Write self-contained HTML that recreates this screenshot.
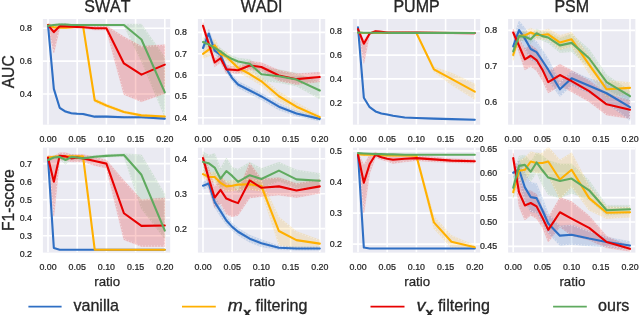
<!DOCTYPE html>
<html><head><meta charset="utf-8"><style>
html,body{margin:0;padding:0;background:#fff;width:640px;height:315px;overflow:hidden}
text{font-family:"Liberation Sans",sans-serif;fill:#262626;font-kerning:none}
.tk{font-size:9.5px;stroke:#262626;stroke-width:0.25px}
.tt{font-size:16px;stroke:#262626;stroke-width:0.3px}
.lb{font-size:13.3px;stroke:#262626;stroke-width:0.25px}
.yl{font-size:15.7px;stroke:#262626;stroke-width:0.3px}
.lg{font-size:16.1px;stroke:#262626;stroke-width:0.3px}
</style></head><body>
<svg width="640" height="315" viewBox="0 0 640 315" style="display:block;will-change:transform"><rect width="640" height="315" fill="#ffffff"/><clipPath id="c00"><rect x="42.90" y="19.00" width="127.30" height="105.70"/></clipPath><rect x="42.90" y="19.00" width="127.30" height="105.70" fill="#eaeaf2"/><path d="M48.00 19.00V124.70M77.20 19.00V124.70M106.40 19.00V124.70M135.60 19.00V124.70M164.80 19.00V124.70M42.90 94.00H170.20M42.90 61.15H170.20M42.90 28.30H170.20" stroke="#ffffff" stroke-width="1.6" fill="none" clip-path="url(#c00)"/><text transform="translate(31.90 97.00) scale(0.93 1)" text-anchor="end" class="tk">0.4</text><text transform="translate(31.90 64.15) scale(0.93 1)" text-anchor="end" class="tk">0.6</text><text transform="translate(31.90 31.30) scale(0.93 1)" text-anchor="end" class="tk">0.8</text><text transform="translate(48.00 141.90) scale(0.93 1)" text-anchor="middle" class="tk">0.00</text><text transform="translate(77.20 141.90) scale(0.93 1)" text-anchor="middle" class="tk">0.05</text><text transform="translate(106.40 141.90) scale(0.93 1)" text-anchor="middle" class="tk">0.10</text><text transform="translate(135.60 141.90) scale(0.93 1)" text-anchor="middle" class="tk">0.15</text><text transform="translate(164.80 141.90) scale(0.93 1)" text-anchor="middle" class="tk">0.20</text><g clip-path="url(#c00)"><clipPath id="b00green"><path d="M48.00 25.02L53.84 24.19L59.68 23.37L65.52 23.37L71.36 24.19L77.20 24.19L83.04 24.19L94.72 24.19L106.40 24.19L123.92 24.19L141.44 24.19L164.80 57.37L164.80 117.00L141.44 61.15L123.92 25.84L106.40 25.84L94.72 25.84L83.04 25.84L77.20 25.84L71.36 25.84L65.52 25.84L59.68 25.84L53.84 25.84L48.00 26.66Z"/></clipPath><path d="M48.00 25.02L53.84 24.19L59.68 23.37L65.52 23.37L71.36 24.19L77.20 24.19L83.04 24.19L94.72 24.19L106.40 24.19L123.92 24.19L141.44 24.19L164.80 57.37L164.80 117.00L141.44 61.15L123.92 25.84L106.40 25.84L94.72 25.84L83.04 25.84L77.20 25.84L71.36 25.84L65.52 25.84L59.68 25.84L53.84 25.84L48.00 26.66Z" fill="#5faa5f" fill-opacity="0.17" stroke="#5faa5f" stroke-opacity="0.12" stroke-width="0.8"/><path d="M48.00 25.02L53.84 24.19L59.68 23.37L65.52 23.37L71.36 24.19L77.20 24.19L83.04 24.19L94.72 24.19L106.40 24.19L123.92 24.19L141.44 24.19L164.80 57.37L164.80 117.00L141.44 61.15L123.92 25.84L106.40 25.84L94.72 25.84L83.04 25.84L77.20 25.84L71.36 25.84L65.52 25.84L59.68 25.84L53.84 25.84L48.00 26.66Z" fill="none" stroke="#ffffff" stroke-opacity="0.55" stroke-width="1.8" stroke-dasharray="1.3 1.7" clip-path="url(#b00green)"/><clipPath id="b00red"><path d="M48.00 23.37L53.84 25.02L59.68 24.19L65.52 24.19L71.36 25.02L77.20 25.02L83.04 25.02L94.72 25.84L106.40 25.84L123.92 36.84L141.44 46.37L164.80 44.73L164.80 93.51L141.44 101.72L123.92 94.49L106.40 29.94L94.72 29.94L83.04 28.30L77.20 28.30L71.36 28.30L65.52 28.30L59.68 28.30L53.84 52.94L48.00 26.66Z"/></clipPath><path d="M48.00 23.37L53.84 25.02L59.68 24.19L65.52 24.19L71.36 25.02L77.20 25.02L83.04 25.02L94.72 25.84L106.40 25.84L123.92 36.84L141.44 46.37L164.80 44.73L164.80 93.51L141.44 101.72L123.92 94.49L106.40 29.94L94.72 29.94L83.04 28.30L77.20 28.30L71.36 28.30L65.52 28.30L59.68 28.30L53.84 52.94L48.00 26.66Z" fill="#e80000" fill-opacity="0.2" stroke="#e80000" stroke-opacity="0.12" stroke-width="0.8"/><path d="M48.00 23.37L53.84 25.02L59.68 24.19L65.52 24.19L71.36 25.02L77.20 25.02L83.04 25.02L94.72 25.84L106.40 25.84L123.92 36.84L141.44 46.37L164.80 44.73L164.80 93.51L141.44 101.72L123.92 94.49L106.40 29.94L94.72 29.94L83.04 28.30L77.20 28.30L71.36 28.30L65.52 28.30L59.68 28.30L53.84 52.94L48.00 26.66Z" fill="none" stroke="#ffffff" stroke-opacity="0.55" stroke-width="1.8" stroke-dasharray="1.3 1.7" clip-path="url(#b00red)"/><clipPath id="b00yellow"><path d="M48.00 24.19L53.84 26.49L59.68 26.82L65.52 26.82L71.36 26.49L77.20 25.84L83.04 25.02L94.72 98.27L106.40 103.86L123.92 110.75L141.44 114.37L164.80 115.68L164.80 117.32L141.44 116.34L123.92 113.38L106.40 107.14L94.72 102.21L83.04 26.66L77.20 27.48L71.36 28.14L65.52 28.46L59.68 28.46L53.84 28.14L48.00 25.84Z"/></clipPath><path d="M48.00 24.19L53.84 26.49L59.68 26.82L65.52 26.82L71.36 26.49L77.20 25.84L83.04 25.02L94.72 98.27L106.40 103.86L123.92 110.75L141.44 114.37L164.80 115.68L164.80 117.32L141.44 116.34L123.92 113.38L106.40 107.14L94.72 102.21L83.04 26.66L77.20 27.48L71.36 28.14L65.52 28.46L59.68 28.46L53.84 28.14L48.00 25.84Z" fill="#ffb000" fill-opacity="0.16" stroke="#ffb000" stroke-opacity="0.12" stroke-width="0.8"/><path d="M48.00 24.19L53.84 26.49L59.68 26.82L65.52 26.82L71.36 26.49L77.20 25.84L83.04 25.02L94.72 98.27L106.40 103.86L123.92 110.75L141.44 114.37L164.80 115.68L164.80 117.32L141.44 116.34L123.92 113.38L106.40 107.14L94.72 102.21L83.04 26.66L77.20 27.48L71.36 28.14L65.52 28.46L59.68 28.46L53.84 28.14L48.00 25.84Z" fill="none" stroke="#ffffff" stroke-opacity="0.55" stroke-width="1.8" stroke-dasharray="1.3 1.7" clip-path="url(#b00yellow)"/><clipPath id="b00blue"><path d="M48.00 24.03L53.84 87.92L59.68 106.81L65.52 110.59L71.36 112.23L77.20 112.72L83.04 113.05L94.72 115.68L106.40 115.68L123.92 116.34L141.44 116.34L164.80 117.65L164.80 119.62L141.44 118.31L123.92 118.31L106.40 117.65L94.72 117.65L83.04 115.02L77.20 114.70L71.36 114.20L65.52 112.56L59.68 108.78L53.84 89.89L48.00 26.00Z"/></clipPath><path d="M48.00 24.03L53.84 87.92L59.68 106.81L65.52 110.59L71.36 112.23L77.20 112.72L83.04 113.05L94.72 115.68L106.40 115.68L123.92 116.34L141.44 116.34L164.80 117.65L164.80 119.62L141.44 118.31L123.92 118.31L106.40 117.65L94.72 117.65L83.04 115.02L77.20 114.70L71.36 114.20L65.52 112.56L59.68 108.78L53.84 89.89L48.00 26.00Z" fill="#2f6fc4" fill-opacity="0.18" stroke="#2f6fc4" stroke-opacity="0.12" stroke-width="0.8"/><path d="M48.00 24.03L53.84 87.92L59.68 106.81L65.52 110.59L71.36 112.23L77.20 112.72L83.04 113.05L94.72 115.68L106.40 115.68L123.92 116.34L141.44 116.34L164.80 117.65L164.80 119.62L141.44 118.31L123.92 118.31L106.40 117.65L94.72 117.65L83.04 115.02L77.20 114.70L71.36 114.20L65.52 112.56L59.68 108.78L53.84 89.89L48.00 26.00Z" fill="none" stroke="#ffffff" stroke-opacity="0.55" stroke-width="1.8" stroke-dasharray="1.3 1.7" clip-path="url(#b00blue)"/><path d="M48.00 25.02L53.84 88.91L59.68 107.80L65.52 111.57L71.36 113.22L77.20 113.71L83.04 114.04L94.72 116.67L106.40 116.67L123.92 117.32L141.44 117.32L164.80 118.64" stroke="#2f6fc4" stroke-width="2.1" fill="none" stroke-linejoin="round" stroke-linecap="round"/><path d="M48.00 25.02L53.84 27.31L59.68 27.64L65.52 27.64L71.36 27.31L77.20 26.66L83.04 25.84L94.72 100.24L106.40 105.50L123.92 112.07L141.44 115.35L164.80 116.50" stroke="#ffb000" stroke-width="2.1" fill="none" stroke-linejoin="round" stroke-linecap="round"/><path d="M48.00 25.02L53.84 32.08L59.68 26.16L65.52 26.33L71.36 26.66L77.20 26.99L83.04 27.31L94.72 28.30L106.40 28.30L123.92 63.45L141.44 74.62L164.80 64.60" stroke="#e80000" stroke-width="2.1" fill="none" stroke-linejoin="round" stroke-linecap="round"/><path d="M48.00 25.84L53.84 25.02L59.68 24.52L65.52 24.52L71.36 25.02L77.20 25.02L83.04 25.02L94.72 25.02L106.40 25.02L123.92 25.02L141.44 39.47L164.80 92.36" stroke="#5faa5f" stroke-width="2.1" fill="none" stroke-linejoin="round" stroke-linecap="round"/></g><clipPath id="c01"><rect x="197.90" y="19.00" width="127.30" height="105.70"/></clipPath><rect x="197.90" y="19.00" width="127.30" height="105.70" fill="#eaeaf2"/><path d="M203.00 19.00V124.70M232.20 19.00V124.70M261.40 19.00V124.70M290.60 19.00V124.70M319.80 19.00V124.70M197.90 117.80H325.20M197.90 96.45H325.20M197.90 75.10H325.20M197.90 53.75H325.20M197.90 32.40H325.20" stroke="#ffffff" stroke-width="1.6" fill="none" clip-path="url(#c01)"/><text transform="translate(186.90 120.80) scale(0.93 1)" text-anchor="end" class="tk">0.4</text><text transform="translate(186.90 99.45) scale(0.93 1)" text-anchor="end" class="tk">0.5</text><text transform="translate(186.90 78.10) scale(0.93 1)" text-anchor="end" class="tk">0.6</text><text transform="translate(186.90 56.75) scale(0.93 1)" text-anchor="end" class="tk">0.7</text><text transform="translate(186.90 35.40) scale(0.93 1)" text-anchor="end" class="tk">0.8</text><text transform="translate(203.00 141.90) scale(0.93 1)" text-anchor="middle" class="tk">0.00</text><text transform="translate(232.20 141.90) scale(0.93 1)" text-anchor="middle" class="tk">0.05</text><text transform="translate(261.40 141.90) scale(0.93 1)" text-anchor="middle" class="tk">0.10</text><text transform="translate(290.60 141.90) scale(0.93 1)" text-anchor="middle" class="tk">0.15</text><text transform="translate(319.80 141.90) scale(0.93 1)" text-anchor="middle" class="tk">0.20</text><g clip-path="url(#c01)"><clipPath id="b01green"><path d="M203.00 37.74L208.84 40.30L214.68 43.72L220.52 48.20L226.36 52.68L232.20 55.88L238.04 58.23L249.72 59.51L261.40 67.84L278.92 69.76L296.44 73.18L319.80 81.93L319.80 99.01L296.44 85.99L278.92 82.57L261.40 80.65L249.72 68.05L238.04 64.64L232.20 62.29L226.36 59.09L220.52 54.60L214.68 52.26L208.84 48.84L203.00 46.28Z"/></clipPath><path d="M203.00 37.74L208.84 40.30L214.68 43.72L220.52 48.20L226.36 52.68L232.20 55.88L238.04 58.23L249.72 59.51L261.40 67.84L278.92 69.76L296.44 73.18L319.80 81.93L319.80 99.01L296.44 85.99L278.92 82.57L261.40 80.65L249.72 68.05L238.04 64.64L232.20 62.29L226.36 59.09L220.52 54.60L214.68 52.26L208.84 48.84L203.00 46.28Z" fill="#5faa5f" fill-opacity="0.17" stroke="#5faa5f" stroke-opacity="0.12" stroke-width="0.8"/><path d="M203.00 37.74L208.84 40.30L214.68 43.72L220.52 48.20L226.36 52.68L232.20 55.88L238.04 58.23L249.72 59.51L261.40 67.84L278.92 69.76L296.44 73.18L319.80 81.93L319.80 99.01L296.44 85.99L278.92 82.57L261.40 80.65L249.72 68.05L238.04 64.64L232.20 62.29L226.36 59.09L220.52 54.60L214.68 52.26L208.84 48.84L203.00 46.28Z" fill="none" stroke="#ffffff" stroke-opacity="0.55" stroke-width="1.8" stroke-dasharray="1.3 1.7" clip-path="url(#b01green)"/><clipPath id="b01red"><path d="M203.00 22.58L208.84 39.87L214.68 58.23L220.52 53.96L226.36 65.07L232.20 66.56L238.04 66.99L249.72 61.22L261.40 62.72L278.92 70.19L296.44 73.82L319.80 72.32L319.80 81.72L296.44 84.49L278.92 80.86L261.40 71.26L249.72 69.76L238.04 73.39L232.20 72.97L226.36 73.61L220.52 62.50L214.68 66.77L208.84 48.41L203.00 28.98Z"/></clipPath><path d="M203.00 22.58L208.84 39.87L214.68 58.23L220.52 53.96L226.36 65.07L232.20 66.56L238.04 66.99L249.72 61.22L261.40 62.72L278.92 70.19L296.44 73.82L319.80 72.32L319.80 81.72L296.44 84.49L278.92 80.86L261.40 71.26L249.72 69.76L238.04 73.39L232.20 72.97L226.36 73.61L220.52 62.50L214.68 66.77L208.84 48.41L203.00 28.98Z" fill="#e80000" fill-opacity="0.2" stroke="#e80000" stroke-opacity="0.12" stroke-width="0.8"/><path d="M203.00 22.58L208.84 39.87L214.68 58.23L220.52 53.96L226.36 65.07L232.20 66.56L238.04 66.99L249.72 61.22L261.40 62.72L278.92 70.19L296.44 73.82L319.80 72.32L319.80 81.72L296.44 84.49L278.92 80.86L261.40 71.26L249.72 69.76L238.04 73.39L232.20 72.97L226.36 73.61L220.52 62.50L214.68 66.77L208.84 48.41L203.00 28.98Z" fill="none" stroke="#ffffff" stroke-opacity="0.55" stroke-width="1.8" stroke-dasharray="1.3 1.7" clip-path="url(#b01red)"/><clipPath id="b01yellow"><path d="M203.00 49.69L208.84 43.29L214.68 39.02L220.52 49.69L226.36 52.26L232.20 58.02L238.04 63.57L249.72 69.76L261.40 77.02L278.92 91.54L296.44 102.43L319.80 115.45L319.80 118.87L296.44 110.97L278.92 100.93L261.40 85.56L249.72 78.30L238.04 72.11L232.20 66.56L226.36 60.80L220.52 58.23L214.68 51.83L208.84 56.10L203.00 58.23Z"/></clipPath><path d="M203.00 49.69L208.84 43.29L214.68 39.02L220.52 49.69L226.36 52.26L232.20 58.02L238.04 63.57L249.72 69.76L261.40 77.02L278.92 91.54L296.44 102.43L319.80 115.45L319.80 118.87L296.44 110.97L278.92 100.93L261.40 85.56L249.72 78.30L238.04 72.11L232.20 66.56L226.36 60.80L220.52 58.23L214.68 51.83L208.84 56.10L203.00 58.23Z" fill="#ffb000" fill-opacity="0.16" stroke="#ffb000" stroke-opacity="0.12" stroke-width="0.8"/><path d="M203.00 49.69L208.84 43.29L214.68 39.02L220.52 49.69L226.36 52.26L232.20 58.02L238.04 63.57L249.72 69.76L261.40 77.02L278.92 91.54L296.44 102.43L319.80 115.45L319.80 118.87L296.44 110.97L278.92 100.93L261.40 85.56L249.72 78.30L238.04 72.11L232.20 66.56L226.36 60.80L220.52 58.23L214.68 51.83L208.84 56.10L203.00 58.23Z" fill="none" stroke="#ffffff" stroke-opacity="0.55" stroke-width="1.8" stroke-dasharray="1.3 1.7" clip-path="url(#b01yellow)"/><clipPath id="b01blue"><path d="M203.00 43.72L208.84 29.20L214.68 46.28L220.52 51.62L226.36 65.49L232.20 74.89L238.04 81.29L249.72 87.27L261.40 93.25L278.92 103.50L296.44 110.97L319.80 116.73L319.80 121.00L296.44 116.09L278.92 109.90L261.40 99.65L249.72 93.67L238.04 87.70L232.20 81.29L226.36 71.90L220.52 58.02L214.68 54.82L208.84 37.74L203.00 52.26Z"/></clipPath><path d="M203.00 43.72L208.84 29.20L214.68 46.28L220.52 51.62L226.36 65.49L232.20 74.89L238.04 81.29L249.72 87.27L261.40 93.25L278.92 103.50L296.44 110.97L319.80 116.73L319.80 121.00L296.44 116.09L278.92 109.90L261.40 99.65L249.72 93.67L238.04 87.70L232.20 81.29L226.36 71.90L220.52 58.02L214.68 54.82L208.84 37.74L203.00 52.26Z" fill="#2f6fc4" fill-opacity="0.18" stroke="#2f6fc4" stroke-opacity="0.12" stroke-width="0.8"/><path d="M203.00 43.72L208.84 29.20L214.68 46.28L220.52 51.62L226.36 65.49L232.20 74.89L238.04 81.29L249.72 87.27L261.40 93.25L278.92 103.50L296.44 110.97L319.80 116.73L319.80 121.00L296.44 116.09L278.92 109.90L261.40 99.65L249.72 93.67L238.04 87.70L232.20 81.29L226.36 71.90L220.52 58.02L214.68 54.82L208.84 37.74L203.00 52.26Z" fill="none" stroke="#ffffff" stroke-opacity="0.55" stroke-width="1.8" stroke-dasharray="1.3 1.7" clip-path="url(#b01blue)"/><path d="M203.00 47.99L208.84 33.47L214.68 50.55L220.52 54.82L226.36 68.70L232.20 78.09L238.04 84.49L249.72 90.47L261.40 96.45L278.92 106.70L296.44 113.53L319.80 118.87" stroke="#2f6fc4" stroke-width="2.1" fill="none" stroke-linejoin="round" stroke-linecap="round"/><path d="M203.00 53.96L208.84 49.69L214.68 45.42L220.52 53.96L226.36 56.53L232.20 62.29L238.04 67.84L249.72 74.03L261.40 81.29L278.92 96.24L296.44 106.70L319.80 117.16" stroke="#ffb000" stroke-width="2.1" fill="none" stroke-linejoin="round" stroke-linecap="round"/><path d="M203.00 25.78L208.84 44.14L214.68 62.50L220.52 58.23L226.36 69.34L232.20 69.76L238.04 70.19L249.72 65.49L261.40 66.99L278.92 75.53L296.44 79.16L319.80 77.02" stroke="#e80000" stroke-width="2.1" fill="none" stroke-linejoin="round" stroke-linecap="round"/><path d="M203.00 42.01L208.84 44.57L214.68 47.99L220.52 51.40L226.36 55.89L232.20 59.09L238.04 61.44L249.72 63.78L261.40 74.25L278.92 76.17L296.44 79.58L319.80 90.47" stroke="#5faa5f" stroke-width="2.1" fill="none" stroke-linejoin="round" stroke-linecap="round"/></g><clipPath id="c02"><rect x="352.90" y="19.00" width="127.30" height="105.70"/></clipPath><rect x="352.90" y="19.00" width="127.30" height="105.70" fill="#eaeaf2"/><path d="M358.00 19.00V124.70M387.20 19.00V124.70M416.40 19.00V124.70M445.60 19.00V124.70M474.80 19.00V124.70M352.90 102.70H480.20M352.90 78.90H480.20M352.90 55.10H480.20M352.90 31.30H480.20" stroke="#ffffff" stroke-width="1.6" fill="none" clip-path="url(#c02)"/><text transform="translate(341.90 105.70) scale(0.93 1)" text-anchor="end" class="tk">0.2</text><text transform="translate(341.90 81.90) scale(0.93 1)" text-anchor="end" class="tk">0.4</text><text transform="translate(341.90 58.10) scale(0.93 1)" text-anchor="end" class="tk">0.6</text><text transform="translate(341.90 34.30) scale(0.93 1)" text-anchor="end" class="tk">0.8</text><text transform="translate(358.00 141.90) scale(0.93 1)" text-anchor="middle" class="tk">0.00</text><text transform="translate(387.20 141.90) scale(0.93 1)" text-anchor="middle" class="tk">0.05</text><text transform="translate(416.40 141.90) scale(0.93 1)" text-anchor="middle" class="tk">0.10</text><text transform="translate(445.60 141.90) scale(0.93 1)" text-anchor="middle" class="tk">0.15</text><text transform="translate(474.80 141.90) scale(0.93 1)" text-anchor="middle" class="tk">0.20</text><g clip-path="url(#c02)"><clipPath id="b02red"><path d="M358.00 28.44L363.84 40.23L369.68 32.49L375.52 30.35L381.36 30.94L387.20 31.54L393.04 31.54L404.72 31.54L416.40 31.54L433.92 31.78L451.44 32.01L474.80 32.13L474.80 34.04L451.44 33.92L433.92 33.68L416.40 33.44L404.72 33.44L393.04 33.44L387.20 33.44L381.36 32.85L375.52 32.25L369.68 34.39L363.84 63.43L358.00 29.87Z"/></clipPath><path d="M358.00 28.44L363.84 40.23L369.68 32.49L375.52 30.35L381.36 30.94L387.20 31.54L393.04 31.54L404.72 31.54L416.40 31.54L433.92 31.78L451.44 32.01L474.80 32.13L474.80 34.04L451.44 33.92L433.92 33.68L416.40 33.44L404.72 33.44L393.04 33.44L387.20 33.44L381.36 32.85L375.52 32.25L369.68 34.39L363.84 63.43L358.00 29.87Z" fill="#e80000" fill-opacity="0.2" stroke="#e80000" stroke-opacity="0.12" stroke-width="0.8"/><path d="M358.00 28.44L363.84 40.23L369.68 32.49L375.52 30.35L381.36 30.94L387.20 31.54L393.04 31.54L404.72 31.54L416.40 31.54L433.92 31.78L451.44 32.01L474.80 32.13L474.80 34.04L451.44 33.92L433.92 33.68L416.40 33.44L404.72 33.44L393.04 33.44L387.20 33.44L381.36 32.85L375.52 32.25L369.68 34.39L363.84 63.43L358.00 29.87Z" fill="none" stroke="#ffffff" stroke-opacity="0.55" stroke-width="1.8" stroke-dasharray="1.3 1.7" clip-path="url(#b02red)"/><clipPath id="b02yellow"><path d="M358.00 31.89L363.84 32.37L369.68 32.37L375.52 32.37L381.36 32.37L387.20 32.37L393.04 32.37L404.72 32.37L416.40 32.37L433.92 67.00L451.44 72.95L474.80 83.90L474.80 99.37L451.44 84.85L433.92 71.76L416.40 33.56L404.72 33.56L393.04 33.56L387.20 33.56L381.36 33.56L375.52 33.56L369.68 33.56L363.84 33.56L358.00 33.09Z"/></clipPath><path d="M358.00 31.89L363.84 32.37L369.68 32.37L375.52 32.37L381.36 32.37L387.20 32.37L393.04 32.37L404.72 32.37L416.40 32.37L433.92 67.00L451.44 72.95L474.80 83.90L474.80 99.37L451.44 84.85L433.92 71.76L416.40 33.56L404.72 33.56L393.04 33.56L387.20 33.56L381.36 33.56L375.52 33.56L369.68 33.56L363.84 33.56L358.00 33.09Z" fill="#ffb000" fill-opacity="0.16" stroke="#ffb000" stroke-opacity="0.12" stroke-width="0.8"/><path d="M358.00 31.89L363.84 32.37L369.68 32.37L375.52 32.37L381.36 32.37L387.20 32.37L393.04 32.37L404.72 32.37L416.40 32.37L433.92 67.00L451.44 72.95L474.80 83.90L474.80 99.37L451.44 84.85L433.92 71.76L416.40 33.56L404.72 33.56L393.04 33.56L387.20 33.56L381.36 33.56L375.52 33.56L369.68 33.56L363.84 33.56L358.00 33.09Z" fill="none" stroke="#ffffff" stroke-opacity="0.55" stroke-width="1.8" stroke-dasharray="1.3 1.7" clip-path="url(#b02yellow)"/><clipPath id="b02blue"><path d="M358.00 26.90L363.84 97.23L369.68 106.75L375.52 110.91L381.36 113.05L387.20 114.01L393.04 115.20L404.72 116.98L416.40 117.58L433.92 118.17L451.44 118.65L474.80 119.24L474.80 120.19L451.44 119.60L433.92 119.12L416.40 118.53L404.72 117.93L393.04 116.15L387.20 114.96L381.36 114.01L375.52 111.86L369.68 107.70L363.84 98.18L358.00 27.85Z"/></clipPath><path d="M358.00 26.90L363.84 97.23L369.68 106.75L375.52 110.91L381.36 113.05L387.20 114.01L393.04 115.20L404.72 116.98L416.40 117.58L433.92 118.17L451.44 118.65L474.80 119.24L474.80 120.19L451.44 119.60L433.92 119.12L416.40 118.53L404.72 117.93L393.04 116.15L387.20 114.96L381.36 114.01L375.52 111.86L369.68 107.70L363.84 98.18L358.00 27.85Z" fill="#2f6fc4" fill-opacity="0.18" stroke="#2f6fc4" stroke-opacity="0.12" stroke-width="0.8"/><path d="M358.00 26.90L363.84 97.23L369.68 106.75L375.52 110.91L381.36 113.05L387.20 114.01L393.04 115.20L404.72 116.98L416.40 117.58L433.92 118.17L451.44 118.65L474.80 119.24L474.80 120.19L451.44 119.60L433.92 119.12L416.40 118.53L404.72 117.93L393.04 116.15L387.20 114.96L381.36 114.01L375.52 111.86L369.68 107.70L363.84 98.18L358.00 27.85Z" fill="none" stroke="#ffffff" stroke-opacity="0.55" stroke-width="1.8" stroke-dasharray="1.3 1.7" clip-path="url(#b02blue)"/><path d="M358.00 27.37L363.84 97.70L369.68 107.22L375.52 111.39L381.36 113.53L387.20 114.48L393.04 115.67L404.72 117.46L416.40 118.05L433.92 118.65L451.44 119.12L474.80 119.72" stroke="#2f6fc4" stroke-width="2.1" fill="none" stroke-linejoin="round" stroke-linecap="round"/><path d="M358.00 32.49L363.84 32.97L369.68 32.97L375.52 32.97L381.36 32.97L387.20 32.97L393.04 32.97L404.72 32.97L416.40 32.97L433.92 69.38L451.44 78.90L474.80 91.63" stroke="#ffb000" stroke-width="2.1" fill="none" stroke-linejoin="round" stroke-linecap="round"/><path d="M358.00 29.16L363.84 43.68L369.68 33.44L375.52 31.30L381.36 31.89L387.20 32.49L393.04 32.49L404.72 32.49L416.40 32.49L433.92 32.73L451.44 32.97L474.80 33.09" stroke="#e80000" stroke-width="2.1" fill="none" stroke-linejoin="round" stroke-linecap="round"/><path d="M358.00 32.49L363.84 32.73L369.68 32.73L375.52 32.73L381.36 32.73L387.20 32.73L393.04 32.85L404.72 32.85L416.40 32.85L433.92 32.85L451.44 32.85L474.80 32.97" stroke="#5faa5f" stroke-width="2.1" fill="none" stroke-linejoin="round" stroke-linecap="round"/></g><clipPath id="c03"><rect x="508.10" y="19.00" width="127.30" height="105.70"/></clipPath><rect x="508.10" y="19.00" width="127.30" height="105.70" fill="#eaeaf2"/><path d="M513.20 19.00V124.70M542.40 19.00V124.70M571.60 19.00V124.70M600.80 19.00V124.70M630.00 19.00V124.70M508.10 101.80H635.40M508.10 66.10H635.40M508.10 30.40H635.40" stroke="#ffffff" stroke-width="1.6" fill="none" clip-path="url(#c03)"/><text transform="translate(497.10 104.80) scale(0.93 1)" text-anchor="end" class="tk">0.6</text><text transform="translate(497.10 69.10) scale(0.93 1)" text-anchor="end" class="tk">0.7</text><text transform="translate(497.10 33.40) scale(0.93 1)" text-anchor="end" class="tk">0.8</text><text transform="translate(513.20 141.90) scale(0.93 1)" text-anchor="middle" class="tk">0.00</text><text transform="translate(542.40 141.90) scale(0.93 1)" text-anchor="middle" class="tk">0.05</text><text transform="translate(571.60 141.90) scale(0.93 1)" text-anchor="middle" class="tk">0.10</text><text transform="translate(600.80 141.90) scale(0.93 1)" text-anchor="middle" class="tk">0.15</text><text transform="translate(630.00 141.90) scale(0.93 1)" text-anchor="middle" class="tk">0.20</text><g clip-path="url(#c03)"><clipPath id="b03green"><path d="M513.20 46.11L519.04 31.83L524.88 32.54L530.72 35.04L536.56 28.97L542.40 31.83L548.24 32.19L559.92 38.25L571.60 33.97L589.12 49.32L606.64 75.03L630.00 90.73L630.00 101.44L606.64 89.31L589.12 67.17L571.60 51.82L559.92 52.53L548.24 42.90L542.40 40.40L536.56 37.54L530.72 43.61L524.88 41.11L519.04 40.40L513.20 56.82Z"/></clipPath><path d="M513.20 46.11L519.04 31.83L524.88 32.54L530.72 35.04L536.56 28.97L542.40 31.83L548.24 32.19L559.92 38.25L571.60 33.97L589.12 49.32L606.64 75.03L630.00 90.73L630.00 101.44L606.64 89.31L589.12 67.17L571.60 51.82L559.92 52.53L548.24 42.90L542.40 40.40L536.56 37.54L530.72 43.61L524.88 41.11L519.04 40.40L513.20 56.82Z" fill="#5faa5f" fill-opacity="0.17" stroke="#5faa5f" stroke-opacity="0.12" stroke-width="0.8"/><path d="M513.20 46.11L519.04 31.83L524.88 32.54L530.72 35.04L536.56 28.97L542.40 31.83L548.24 32.19L559.92 38.25L571.60 33.97L589.12 49.32L606.64 75.03L630.00 90.73L630.00 101.44L606.64 89.31L589.12 67.17L571.60 51.82L559.92 52.53L548.24 42.90L542.40 40.40L536.56 37.54L530.72 43.61L524.88 41.11L519.04 40.40L513.20 56.82Z" fill="none" stroke="#ffffff" stroke-opacity="0.55" stroke-width="1.8" stroke-dasharray="1.3 1.7" clip-path="url(#b03green)"/><clipPath id="b03red"><path d="M513.20 28.97L519.04 38.61L524.88 48.61L530.72 45.04L536.56 49.32L542.40 58.96L548.24 71.45L559.92 64.31L571.60 70.38L589.12 80.38L606.64 93.59L630.00 100.73L630.00 118.58L606.64 115.01L589.12 101.80L571.60 91.80L559.92 85.74L548.24 92.88L542.40 80.38L536.56 70.74L530.72 66.46L524.88 70.03L519.04 52.89L513.20 36.11Z"/></clipPath><path d="M513.20 28.97L519.04 38.61L524.88 48.61L530.72 45.04L536.56 49.32L542.40 58.96L548.24 71.45L559.92 64.31L571.60 70.38L589.12 80.38L606.64 93.59L630.00 100.73L630.00 118.58L606.64 115.01L589.12 101.80L571.60 91.80L559.92 85.74L548.24 92.88L542.40 80.38L536.56 70.74L530.72 66.46L524.88 70.03L519.04 52.89L513.20 36.11Z" fill="#e80000" fill-opacity="0.2" stroke="#e80000" stroke-opacity="0.12" stroke-width="0.8"/><path d="M513.20 28.97L519.04 38.61L524.88 48.61L530.72 45.04L536.56 49.32L542.40 58.96L548.24 71.45L559.92 64.31L571.60 70.38L589.12 80.38L606.64 93.59L630.00 100.73L630.00 118.58L606.64 115.01L589.12 101.80L571.60 91.80L559.92 85.74L548.24 92.88L542.40 80.38L536.56 70.74L530.72 66.46L524.88 70.03L519.04 52.89L513.20 36.11Z" fill="none" stroke="#ffffff" stroke-opacity="0.55" stroke-width="1.8" stroke-dasharray="1.3 1.7" clip-path="url(#b03red)"/><clipPath id="b03yellow"><path d="M513.20 49.68L519.04 31.83L524.88 31.11L530.72 28.26L536.56 30.76L542.40 30.76L548.24 28.97L559.92 35.40L571.60 32.19L589.12 55.75L606.64 80.38L630.00 82.52L630.00 93.23L606.64 98.23L589.12 73.60L571.60 46.47L559.92 49.68L548.24 39.68L542.40 39.33L536.56 39.33L530.72 36.83L524.88 39.68L519.04 40.40L513.20 60.39Z"/></clipPath><path d="M513.20 49.68L519.04 31.83L524.88 31.11L530.72 28.26L536.56 30.76L542.40 30.76L548.24 28.97L559.92 35.40L571.60 32.19L589.12 55.75L606.64 80.38L630.00 82.52L630.00 93.23L606.64 98.23L589.12 73.60L571.60 46.47L559.92 49.68L548.24 39.68L542.40 39.33L536.56 39.33L530.72 36.83L524.88 39.68L519.04 40.40L513.20 60.39Z" fill="#ffb000" fill-opacity="0.16" stroke="#ffb000" stroke-opacity="0.12" stroke-width="0.8"/><path d="M513.20 49.68L519.04 31.83L524.88 31.11L530.72 28.26L536.56 30.76L542.40 30.76L548.24 28.97L559.92 35.40L571.60 32.19L589.12 55.75L606.64 80.38L630.00 82.52L630.00 93.23L606.64 98.23L589.12 73.60L571.60 46.47L559.92 49.68L548.24 39.68L542.40 39.33L536.56 39.33L530.72 36.83L524.88 39.68L519.04 40.40L513.20 60.39Z" fill="none" stroke="#ffffff" stroke-opacity="0.55" stroke-width="1.8" stroke-dasharray="1.3 1.7" clip-path="url(#b03yellow)"/><clipPath id="b03blue"><path d="M513.20 39.33L519.04 21.12L524.88 27.90L530.72 38.25L536.56 41.47L542.40 50.04L548.24 58.96L559.92 82.17L571.60 71.10L589.12 78.59L606.64 83.24L630.00 93.95L630.00 120.36L606.64 103.23L589.12 92.88L571.60 85.38L559.92 96.45L548.24 80.38L542.40 71.46L536.56 62.89L530.72 59.67L524.88 49.32L519.04 38.97L513.20 53.61Z"/></clipPath><path d="M513.20 39.33L519.04 21.12L524.88 27.90L530.72 38.25L536.56 41.47L542.40 50.04L548.24 58.96L559.92 82.17L571.60 71.10L589.12 78.59L606.64 83.24L630.00 93.95L630.00 120.36L606.64 103.23L589.12 92.88L571.60 85.38L559.92 96.45L548.24 80.38L542.40 71.46L536.56 62.89L530.72 59.67L524.88 49.32L519.04 38.97L513.20 53.61Z" fill="#2f6fc4" fill-opacity="0.18" stroke="#2f6fc4" stroke-opacity="0.12" stroke-width="0.8"/><path d="M513.20 39.33L519.04 21.12L524.88 27.90L530.72 38.25L536.56 41.47L542.40 50.04L548.24 58.96L559.92 82.17L571.60 71.10L589.12 78.59L606.64 83.24L630.00 93.95L630.00 120.36L606.64 103.23L589.12 92.88L571.60 85.38L559.92 96.45L548.24 80.38L542.40 71.46L536.56 62.89L530.72 59.67L524.88 49.32L519.04 38.97L513.20 53.61Z" fill="none" stroke="#ffffff" stroke-opacity="0.55" stroke-width="1.8" stroke-dasharray="1.3 1.7" clip-path="url(#b03blue)"/><path d="M513.20 46.47L519.04 30.04L524.88 38.61L530.72 48.96L536.56 52.18L542.40 60.75L548.24 69.67L559.92 89.31L571.60 78.24L589.12 85.74L606.64 93.23L630.00 107.16" stroke="#2f6fc4" stroke-width="2.1" fill="none" stroke-linejoin="round" stroke-linecap="round"/><path d="M513.20 55.03L519.04 36.11L524.88 35.40L530.72 32.54L536.56 35.04L542.40 35.04L548.24 34.33L559.92 42.54L571.60 39.33L589.12 64.67L606.64 89.31L630.00 87.88" stroke="#ffb000" stroke-width="2.1" fill="none" stroke-linejoin="round" stroke-linecap="round"/><path d="M513.20 32.54L519.04 45.75L524.88 59.32L530.72 55.75L536.56 60.03L542.40 69.67L548.24 82.17L559.92 75.03L571.60 81.09L589.12 91.09L606.64 104.30L630.00 109.65" stroke="#e80000" stroke-width="2.1" fill="none" stroke-linejoin="round" stroke-linecap="round"/><path d="M513.20 51.46L519.04 36.11L524.88 36.83L530.72 39.33L536.56 33.26L542.40 36.11L548.24 37.54L559.92 45.39L571.60 42.90L589.12 58.25L606.64 82.17L630.00 96.09" stroke="#5faa5f" stroke-width="2.1" fill="none" stroke-linejoin="round" stroke-linecap="round"/></g><clipPath id="c10"><rect x="42.90" y="147.60" width="127.30" height="105.00"/></clipPath><rect x="42.90" y="147.60" width="127.30" height="105.00" fill="#eaeaf2"/><path d="M48.00 147.60V252.60M77.20 147.60V252.60M106.40 147.60V252.60M135.60 147.60V252.60M164.80 147.60V252.60M42.90 235.80H170.20M42.90 217.75H170.20M42.90 199.70H170.20M42.90 181.65H170.20M42.90 163.60H170.20" stroke="#ffffff" stroke-width="1.6" fill="none" clip-path="url(#c10)"/><text transform="translate(31.90 256.85) scale(0.93 1)" text-anchor="end" class="tk">0.2</text><text transform="translate(31.90 238.80) scale(0.93 1)" text-anchor="end" class="tk">0.3</text><text transform="translate(31.90 220.75) scale(0.93 1)" text-anchor="end" class="tk">0.4</text><text transform="translate(31.90 202.70) scale(0.93 1)" text-anchor="end" class="tk">0.5</text><text transform="translate(31.90 184.65) scale(0.93 1)" text-anchor="end" class="tk">0.6</text><text transform="translate(31.90 166.60) scale(0.93 1)" text-anchor="end" class="tk">0.7</text><text transform="translate(48.00 269.80) scale(0.93 1)" text-anchor="middle" class="tk">0.00</text><text transform="translate(77.20 269.80) scale(0.93 1)" text-anchor="middle" class="tk">0.05</text><text transform="translate(106.40 269.80) scale(0.93 1)" text-anchor="middle" class="tk">0.10</text><text transform="translate(135.60 269.80) scale(0.93 1)" text-anchor="middle" class="tk">0.15</text><text transform="translate(164.80 269.80) scale(0.93 1)" text-anchor="middle" class="tk">0.20</text><g clip-path="url(#c10)"><clipPath id="b10green"><path d="M48.00 158.19L53.84 155.48L59.68 154.57L65.52 156.38L71.36 154.57L77.20 155.48L83.04 156.38L94.72 155.48L106.40 154.57L123.92 153.67L141.44 154.94L164.80 194.28L164.80 238.87L141.44 208.72L123.92 156.38L106.40 157.28L94.72 158.19L83.04 159.99L77.20 159.99L71.36 159.09L65.52 164.32L59.68 159.09L53.84 159.09L48.00 161.79Z"/></clipPath><path d="M48.00 158.19L53.84 155.48L59.68 154.57L65.52 156.38L71.36 154.57L77.20 155.48L83.04 156.38L94.72 155.48L106.40 154.57L123.92 153.67L141.44 154.94L164.80 194.28L164.80 238.87L141.44 208.72L123.92 156.38L106.40 157.28L94.72 158.19L83.04 159.99L77.20 159.99L71.36 159.09L65.52 164.32L59.68 159.09L53.84 159.09L48.00 161.79Z" fill="#5faa5f" fill-opacity="0.17" stroke="#5faa5f" stroke-opacity="0.12" stroke-width="0.8"/><path d="M48.00 158.19L53.84 155.48L59.68 154.57L65.52 156.38L71.36 154.57L77.20 155.48L83.04 156.38L94.72 155.48L106.40 154.57L123.92 153.67L141.44 154.94L164.80 194.28L164.80 238.87L141.44 208.72L123.92 156.38L106.40 157.28L94.72 158.19L83.04 159.99L77.20 159.99L71.36 159.09L65.52 164.32L59.68 159.09L53.84 159.09L48.00 161.79Z" fill="none" stroke="#ffffff" stroke-opacity="0.55" stroke-width="1.8" stroke-dasharray="1.3 1.7" clip-path="url(#b10green)"/><clipPath id="b10red"><path d="M48.00 155.48L53.84 156.38L59.68 152.77L65.52 152.77L71.36 154.57L77.20 154.57L83.04 154.57L94.72 157.28L106.40 159.99L123.92 180.57L141.44 199.70L164.80 197.89L164.80 246.45L141.44 246.45L123.92 239.77L106.40 168.11L94.72 165.41L83.04 161.79L77.20 161.79L71.36 161.79L65.52 159.99L59.68 159.99L53.84 215.94L48.00 159.99Z"/></clipPath><path d="M48.00 155.48L53.84 156.38L59.68 152.77L65.52 152.77L71.36 154.57L77.20 154.57L83.04 154.57L94.72 157.28L106.40 159.99L123.92 180.57L141.44 199.70L164.80 197.89L164.80 246.45L141.44 246.45L123.92 239.77L106.40 168.11L94.72 165.41L83.04 161.79L77.20 161.79L71.36 161.79L65.52 159.99L59.68 159.99L53.84 215.94L48.00 159.99Z" fill="#e80000" fill-opacity="0.2" stroke="#e80000" stroke-opacity="0.12" stroke-width="0.8"/><path d="M48.00 155.48L53.84 156.38L59.68 152.77L65.52 152.77L71.36 154.57L77.20 154.57L83.04 154.57L94.72 157.28L106.40 159.99L123.92 180.57L141.44 199.70L164.80 197.89L164.80 246.45L141.44 246.45L123.92 239.77L106.40 168.11L94.72 165.41L83.04 161.79L77.20 161.79L71.36 161.79L65.52 159.99L59.68 159.99L53.84 215.94L48.00 159.99Z" fill="none" stroke="#ffffff" stroke-opacity="0.55" stroke-width="1.8" stroke-dasharray="1.3 1.7" clip-path="url(#b10red)"/><path d="M48.00 158.37L53.84 247.89L59.68 249.70L65.52 249.70L71.36 249.70L77.20 249.70L83.04 249.70L94.72 249.70L106.40 249.70L123.92 249.70L141.44 249.70L164.80 249.70" stroke="#2f6fc4" stroke-width="2.1" fill="none" stroke-linejoin="round" stroke-linecap="round"/><path d="M48.00 157.46L53.84 156.92L59.68 156.38L65.52 156.38L71.36 156.38L77.20 156.38L83.04 156.38L94.72 249.70L106.40 249.70L123.92 249.70L141.44 249.70L164.80 249.70" stroke="#ffb000" stroke-width="2.1" fill="none" stroke-linejoin="round" stroke-linecap="round"/><path d="M48.00 157.46L53.84 181.65L59.68 155.84L65.52 156.38L71.36 158.37L77.20 157.46L83.04 158.37L94.72 161.07L106.40 163.60L123.92 213.24L141.44 225.87L164.80 225.51" stroke="#e80000" stroke-width="2.1" fill="none" stroke-linejoin="round" stroke-linecap="round"/><path d="M48.00 159.99L53.84 157.46L59.68 156.92L65.52 159.99L71.36 156.92L77.20 157.46L83.04 158.37L94.72 156.74L106.40 155.84L123.92 154.94L141.44 174.79L164.80 230.57" stroke="#5faa5f" stroke-width="2.1" fill="none" stroke-linejoin="round" stroke-linecap="round"/></g><clipPath id="c11"><rect x="197.90" y="147.60" width="127.30" height="105.00"/></clipPath><rect x="197.90" y="147.60" width="127.30" height="105.00" fill="#eaeaf2"/><path d="M203.00 147.60V252.60M232.20 147.60V252.60M261.40 147.60V252.60M290.60 147.60V252.60M319.80 147.60V252.60M197.90 228.60H325.20M197.90 193.70H325.20M197.90 158.80H325.20" stroke="#ffffff" stroke-width="1.6" fill="none" clip-path="url(#c11)"/><text transform="translate(186.90 231.60) scale(0.93 1)" text-anchor="end" class="tk">0.2</text><text transform="translate(186.90 196.70) scale(0.93 1)" text-anchor="end" class="tk">0.3</text><text transform="translate(186.90 161.80) scale(0.93 1)" text-anchor="end" class="tk">0.4</text><text transform="translate(203.00 269.80) scale(0.93 1)" text-anchor="middle" class="tk">0.00</text><text transform="translate(232.20 269.80) scale(0.93 1)" text-anchor="middle" class="tk">0.05</text><text transform="translate(261.40 269.80) scale(0.93 1)" text-anchor="middle" class="tk">0.10</text><text transform="translate(290.60 269.80) scale(0.93 1)" text-anchor="middle" class="tk">0.15</text><text transform="translate(319.80 269.80) scale(0.93 1)" text-anchor="middle" class="tk">0.20</text><g clip-path="url(#c11)"><clipPath id="b11green"><path d="M203.00 151.82L208.84 155.31L214.68 153.57L220.52 168.57L226.36 158.10L232.20 167.53L238.04 169.27L249.72 162.29L261.40 168.57L278.92 162.29L296.44 169.97L319.80 173.46L319.80 187.77L296.44 188.12L278.92 181.14L261.40 187.77L249.72 185.67L238.04 192.30L232.20 186.37L226.36 183.23L220.52 189.16L214.68 178.00L208.84 172.06L203.00 172.41Z"/></clipPath><path d="M203.00 151.82L208.84 155.31L214.68 153.57L220.52 168.57L226.36 158.10L232.20 167.53L238.04 169.27L249.72 162.29L261.40 168.57L278.92 162.29L296.44 169.97L319.80 173.46L319.80 187.77L296.44 188.12L278.92 181.14L261.40 187.77L249.72 185.67L238.04 192.30L232.20 186.37L226.36 183.23L220.52 189.16L214.68 178.00L208.84 172.06L203.00 172.41Z" fill="#5faa5f" fill-opacity="0.17" stroke="#5faa5f" stroke-opacity="0.12" stroke-width="0.8"/><path d="M203.00 151.82L208.84 155.31L214.68 153.57L220.52 168.57L226.36 158.10L232.20 167.53L238.04 169.27L249.72 162.29L261.40 168.57L278.92 162.29L296.44 169.97L319.80 173.46L319.80 187.77L296.44 188.12L278.92 181.14L261.40 187.77L249.72 185.67L238.04 192.30L232.20 186.37L226.36 183.23L220.52 189.16L214.68 178.00L208.84 172.06L203.00 172.41Z" fill="none" stroke="#ffffff" stroke-opacity="0.55" stroke-width="1.8" stroke-dasharray="1.3 1.7" clip-path="url(#b11green)"/><clipPath id="b11red"><path d="M203.00 154.61L208.84 168.22L214.68 187.07L220.52 175.90L226.36 182.88L232.20 185.32L238.04 190.91L249.72 162.99L261.40 179.04L278.92 177.65L296.44 183.58L319.80 179.39L319.80 193.35L296.44 197.54L278.92 195.10L261.40 196.49L249.72 197.89L238.04 215.34L232.20 216.73L226.36 214.29L220.52 203.82L214.68 208.01L208.84 189.16L203.00 161.59Z"/></clipPath><path d="M203.00 154.61L208.84 168.22L214.68 187.07L220.52 175.90L226.36 182.88L232.20 185.32L238.04 190.91L249.72 162.99L261.40 179.04L278.92 177.65L296.44 183.58L319.80 179.39L319.80 193.35L296.44 197.54L278.92 195.10L261.40 196.49L249.72 197.89L238.04 215.34L232.20 216.73L226.36 214.29L220.52 203.82L214.68 208.01L208.84 189.16L203.00 161.59Z" fill="#e80000" fill-opacity="0.2" stroke="#e80000" stroke-opacity="0.12" stroke-width="0.8"/><path d="M203.00 154.61L208.84 168.22L214.68 187.07L220.52 175.90L226.36 182.88L232.20 185.32L238.04 190.91L249.72 162.99L261.40 179.04L278.92 177.65L296.44 183.58L319.80 179.39L319.80 193.35L296.44 197.54L278.92 195.10L261.40 196.49L249.72 197.89L238.04 215.34L232.20 216.73L226.36 214.29L220.52 203.82L214.68 208.01L208.84 189.16L203.00 161.59Z" fill="none" stroke="#ffffff" stroke-opacity="0.55" stroke-width="1.8" stroke-dasharray="1.3 1.7" clip-path="url(#b11red)"/><clipPath id="b11yellow"><path d="M203.00 170.67L208.84 173.46L214.68 171.71L220.52 177.65L226.36 181.14L232.20 180.44L238.04 179.39L249.72 179.04L261.40 180.79L278.92 217.08L296.44 231.39L319.80 240.12L319.80 247.10L296.44 248.84L278.92 245.00L261.40 191.26L249.72 189.51L238.04 189.86L232.20 190.91L226.36 191.61L220.52 188.12L214.68 182.18L208.84 180.44L203.00 177.65Z"/></clipPath><path d="M203.00 170.67L208.84 173.46L214.68 171.71L220.52 177.65L226.36 181.14L232.20 180.44L238.04 179.39L249.72 179.04L261.40 180.79L278.92 217.08L296.44 231.39L319.80 240.12L319.80 247.10L296.44 248.84L278.92 245.00L261.40 191.26L249.72 189.51L238.04 189.86L232.20 190.91L226.36 191.61L220.52 188.12L214.68 182.18L208.84 180.44L203.00 177.65Z" fill="#ffb000" fill-opacity="0.16" stroke="#ffb000" stroke-opacity="0.12" stroke-width="0.8"/><path d="M203.00 170.67L208.84 173.46L214.68 171.71L220.52 177.65L226.36 181.14L232.20 180.44L238.04 179.39L249.72 179.04L261.40 180.79L278.92 217.08L296.44 231.39L319.80 240.12L319.80 247.10L296.44 248.84L278.92 245.00L261.40 191.26L249.72 189.51L238.04 189.86L232.20 190.91L226.36 191.61L220.52 188.12L214.68 182.18L208.84 180.44L203.00 177.65Z" fill="none" stroke="#ffffff" stroke-opacity="0.55" stroke-width="1.8" stroke-dasharray="1.3 1.7" clip-path="url(#b11yellow)"/><clipPath id="b11blue"><path d="M203.00 182.18L208.84 180.09L214.68 196.84L220.52 205.92L226.36 216.39L232.20 223.37L238.04 228.25L249.72 235.23L261.40 239.77L278.92 246.05L296.44 246.75L319.80 246.75L319.80 250.24L296.44 250.24L278.92 249.54L261.40 246.75L249.72 242.21L238.04 235.23L232.20 230.35L226.36 224.76L220.52 216.39L214.68 207.31L208.84 187.07L203.00 189.16Z"/></clipPath><path d="M203.00 182.18L208.84 180.09L214.68 196.84L220.52 205.92L226.36 216.39L232.20 223.37L238.04 228.25L249.72 235.23L261.40 239.77L278.92 246.05L296.44 246.75L319.80 246.75L319.80 250.24L296.44 250.24L278.92 249.54L261.40 246.75L249.72 242.21L238.04 235.23L232.20 230.35L226.36 224.76L220.52 216.39L214.68 207.31L208.84 187.07L203.00 189.16Z" fill="#2f6fc4" fill-opacity="0.18" stroke="#2f6fc4" stroke-opacity="0.12" stroke-width="0.8"/><path d="M203.00 182.18L208.84 180.09L214.68 196.84L220.52 205.92L226.36 216.39L232.20 223.37L238.04 228.25L249.72 235.23L261.40 239.77L278.92 246.05L296.44 246.75L319.80 246.75L319.80 250.24L296.44 250.24L278.92 249.54L261.40 246.75L249.72 242.21L238.04 235.23L232.20 230.35L226.36 224.76L220.52 216.39L214.68 207.31L208.84 187.07L203.00 189.16Z" fill="none" stroke="#ffffff" stroke-opacity="0.55" stroke-width="1.8" stroke-dasharray="1.3 1.7" clip-path="url(#b11blue)"/><path d="M203.00 185.67L208.84 183.58L214.68 202.08L220.52 211.15L226.36 220.57L232.20 226.86L238.04 231.74L249.72 238.72L261.40 243.26L278.92 247.80L296.44 248.49L319.80 248.49" stroke="#2f6fc4" stroke-width="2.1" fill="none" stroke-linejoin="round" stroke-linecap="round"/><path d="M203.00 174.16L208.84 176.95L214.68 176.95L220.52 182.88L226.36 186.37L232.20 185.67L238.04 184.63L249.72 184.28L261.40 186.02L278.92 231.04L296.44 240.12L319.80 243.61" stroke="#ffb000" stroke-width="2.1" fill="none" stroke-linejoin="round" stroke-linecap="round"/><path d="M203.00 158.10L208.84 178.69L214.68 197.54L220.52 189.86L226.36 198.59L232.20 201.03L238.04 203.12L249.72 180.44L261.40 187.77L278.92 186.37L296.44 190.56L319.80 186.37" stroke="#e80000" stroke-width="2.1" fill="none" stroke-linejoin="round" stroke-linecap="round"/><path d="M203.00 161.94L208.84 163.34L214.68 167.53L220.52 178.69L226.36 171.02L232.20 175.90L238.04 181.83L249.72 175.20L261.40 179.04L278.92 170.67L296.44 179.39L319.80 180.79" stroke="#5faa5f" stroke-width="2.1" fill="none" stroke-linejoin="round" stroke-linecap="round"/></g><clipPath id="c12"><rect x="352.90" y="147.60" width="127.30" height="105.00"/></clipPath><rect x="352.90" y="147.60" width="127.30" height="105.00" fill="#eaeaf2"/><path d="M358.00 147.60V252.60M387.20 147.60V252.60M416.40 147.60V252.60M445.60 147.60V252.60M474.80 147.60V252.60M352.90 244.15H480.20M352.90 213.10H480.20M352.90 182.05H480.20M352.90 151.00H480.20" stroke="#ffffff" stroke-width="1.6" fill="none" clip-path="url(#c12)"/><text transform="translate(341.90 247.15) scale(0.93 1)" text-anchor="end" class="tk">0.2</text><text transform="translate(341.90 216.10) scale(0.93 1)" text-anchor="end" class="tk">0.3</text><text transform="translate(341.90 185.05) scale(0.93 1)" text-anchor="end" class="tk">0.4</text><text transform="translate(341.90 154.00) scale(0.93 1)" text-anchor="end" class="tk">0.5</text><text transform="translate(358.00 269.80) scale(0.93 1)" text-anchor="middle" class="tk">0.00</text><text transform="translate(387.20 269.80) scale(0.93 1)" text-anchor="middle" class="tk">0.05</text><text transform="translate(416.40 269.80) scale(0.93 1)" text-anchor="middle" class="tk">0.10</text><text transform="translate(445.60 269.80) scale(0.93 1)" text-anchor="middle" class="tk">0.15</text><text transform="translate(474.80 269.80) scale(0.93 1)" text-anchor="middle" class="tk">0.20</text><g clip-path="url(#c12)"><clipPath id="b12red"><path d="M358.00 152.24L363.84 164.97L369.68 154.73L375.52 152.24L381.36 154.73L387.20 156.28L393.04 155.97L404.72 155.66L416.40 155.66L433.92 156.90L451.44 158.76L474.80 159.38L474.80 163.11L451.44 162.49L433.92 161.87L416.40 160.63L404.72 161.87L393.04 163.42L387.20 161.25L381.36 159.69L375.52 157.21L369.68 173.36L363.84 213.10L358.00 157.21Z"/></clipPath><path d="M358.00 152.24L363.84 164.97L369.68 154.73L375.52 152.24L381.36 154.73L387.20 156.28L393.04 155.97L404.72 155.66L416.40 155.66L433.92 156.90L451.44 158.76L474.80 159.38L474.80 163.11L451.44 162.49L433.92 161.87L416.40 160.63L404.72 161.87L393.04 163.42L387.20 161.25L381.36 159.69L375.52 157.21L369.68 173.36L363.84 213.10L358.00 157.21Z" fill="#e80000" fill-opacity="0.2" stroke="#e80000" stroke-opacity="0.12" stroke-width="0.8"/><path d="M358.00 152.24L363.84 164.97L369.68 154.73L375.52 152.24L381.36 154.73L387.20 156.28L393.04 155.97L404.72 155.66L416.40 155.66L433.92 156.90L451.44 158.76L474.80 159.38L474.80 163.11L451.44 162.49L433.92 161.87L416.40 160.63L404.72 161.87L393.04 163.42L387.20 161.25L381.36 159.69L375.52 157.21L369.68 173.36L363.84 213.10L358.00 157.21Z" fill="none" stroke="#ffffff" stroke-opacity="0.55" stroke-width="1.8" stroke-dasharray="1.3 1.7" clip-path="url(#b12red)"/><clipPath id="b12yellow"><path d="M358.00 152.86L363.84 153.48L369.68 153.48L375.52 153.48L381.36 153.79L387.20 154.10L393.04 154.10L404.72 154.10L416.40 154.42L433.92 216.20L451.44 235.46L474.80 245.39L474.80 249.12L451.44 247.88L433.92 228.62L416.40 156.90L404.72 156.59L393.04 156.59L387.20 156.59L381.36 156.28L375.52 155.97L369.68 155.97L363.84 155.97L358.00 155.35Z"/></clipPath><path d="M358.00 152.86L363.84 153.48L369.68 153.48L375.52 153.48L381.36 153.79L387.20 154.10L393.04 154.10L404.72 154.10L416.40 154.42L433.92 216.20L451.44 235.46L474.80 245.39L474.80 249.12L451.44 247.88L433.92 228.62L416.40 156.90L404.72 156.59L393.04 156.59L387.20 156.59L381.36 156.28L375.52 155.97L369.68 155.97L363.84 155.97L358.00 155.35Z" fill="#ffb000" fill-opacity="0.16" stroke="#ffb000" stroke-opacity="0.12" stroke-width="0.8"/><path d="M358.00 152.86L363.84 153.48L369.68 153.48L375.52 153.48L381.36 153.79L387.20 154.10L393.04 154.10L404.72 154.10L416.40 154.42L433.92 216.20L451.44 235.46L474.80 245.39L474.80 249.12L451.44 247.88L433.92 228.62L416.40 156.90L404.72 156.59L393.04 156.59L387.20 156.59L381.36 156.28L375.52 155.97L369.68 155.97L363.84 155.97L358.00 155.35Z" fill="none" stroke="#ffffff" stroke-opacity="0.55" stroke-width="1.8" stroke-dasharray="1.3 1.7" clip-path="url(#b12yellow)"/><path d="M358.00 154.10L363.84 247.57L369.68 248.50L375.52 248.50L381.36 248.50L387.20 248.50L393.04 248.50L404.72 248.50L416.40 248.50L433.92 248.50L451.44 248.50L474.80 248.50" stroke="#2f6fc4" stroke-width="2.1" fill="none" stroke-linejoin="round" stroke-linecap="round"/><path d="M358.00 154.10L363.84 154.73L369.68 154.73L375.52 154.73L381.36 155.04L387.20 155.35L393.04 155.35L404.72 155.35L416.40 155.66L433.92 222.41L451.44 241.67L474.80 247.25" stroke="#ffb000" stroke-width="2.1" fill="none" stroke-linejoin="round" stroke-linecap="round"/><path d="M358.00 154.73L363.84 182.67L369.68 164.04L375.52 154.73L381.36 157.21L387.20 158.76L393.04 159.69L404.72 158.76L416.40 158.14L433.92 159.38L451.44 160.63L474.80 161.25" stroke="#e80000" stroke-width="2.1" fill="none" stroke-linejoin="round" stroke-linecap="round"/><path d="M358.00 153.17L363.84 153.48L369.68 153.79L375.52 154.10L381.36 154.10L387.20 154.42L393.04 154.42L404.72 154.73L416.40 154.73L433.92 154.73L451.44 154.73L474.80 154.73" stroke="#5faa5f" stroke-width="2.1" fill="none" stroke-linejoin="round" stroke-linecap="round"/></g><clipPath id="c13"><rect x="508.10" y="147.60" width="127.30" height="105.00"/></clipPath><rect x="508.10" y="147.60" width="127.30" height="105.00" fill="#eaeaf2"/><path d="M513.20 147.60V252.60M542.40 147.60V252.60M571.60 147.60V252.60M600.80 147.60V252.60M630.00 147.60V252.60M508.10 246.40H635.40M508.10 222.00H635.40M508.10 197.60H635.40M508.10 173.20H635.40M508.10 148.80H635.40" stroke="#ffffff" stroke-width="1.6" fill="none" clip-path="url(#c13)"/><text transform="translate(497.10 249.40) scale(0.93 1)" text-anchor="end" class="tk">0.45</text><text transform="translate(497.10 225.00) scale(0.93 1)" text-anchor="end" class="tk">0.50</text><text transform="translate(497.10 200.60) scale(0.93 1)" text-anchor="end" class="tk">0.55</text><text transform="translate(497.10 176.20) scale(0.93 1)" text-anchor="end" class="tk">0.60</text><text transform="translate(497.10 151.80) scale(0.93 1)" text-anchor="end" class="tk">0.65</text><text transform="translate(513.20 269.80) scale(0.93 1)" text-anchor="middle" class="tk">0.00</text><text transform="translate(542.40 269.80) scale(0.93 1)" text-anchor="middle" class="tk">0.05</text><text transform="translate(571.60 269.80) scale(0.93 1)" text-anchor="middle" class="tk">0.10</text><text transform="translate(600.80 269.80) scale(0.93 1)" text-anchor="middle" class="tk">0.15</text><text transform="translate(630.00 269.80) scale(0.93 1)" text-anchor="middle" class="tk">0.20</text><g clip-path="url(#c13)"><clipPath id="b13green"><path d="M513.20 178.08L519.04 156.12L524.88 155.14L530.72 161.98L536.56 152.70L542.40 155.63L548.24 160.51L559.92 163.93L571.60 163.93L589.12 180.52L606.64 205.41L630.00 205.41L630.00 213.22L606.64 215.17L589.12 200.04L571.60 193.21L559.92 198.09L548.24 194.67L542.40 184.91L536.56 172.22L530.72 181.50L524.88 174.66L519.04 175.64L513.20 197.60Z"/></clipPath><path d="M513.20 178.08L519.04 156.12L524.88 155.14L530.72 161.98L536.56 152.70L542.40 155.63L548.24 160.51L559.92 163.93L571.60 163.93L589.12 180.52L606.64 205.41L630.00 205.41L630.00 213.22L606.64 215.17L589.12 200.04L571.60 193.21L559.92 198.09L548.24 194.67L542.40 184.91L536.56 172.22L530.72 181.50L524.88 174.66L519.04 175.64L513.20 197.60Z" fill="#5faa5f" fill-opacity="0.17" stroke="#5faa5f" stroke-opacity="0.12" stroke-width="0.8"/><path d="M513.20 178.08L519.04 156.12L524.88 155.14L530.72 161.98L536.56 152.70L542.40 155.63L548.24 160.51L559.92 163.93L571.60 163.93L589.12 180.52L606.64 205.41L630.00 205.41L630.00 213.22L606.64 215.17L589.12 200.04L571.60 193.21L559.92 198.09L548.24 194.67L542.40 184.91L536.56 172.22L530.72 181.50L524.88 174.66L519.04 175.64L513.20 197.60Z" fill="none" stroke="#ffffff" stroke-opacity="0.55" stroke-width="1.8" stroke-dasharray="1.3 1.7" clip-path="url(#b13green)"/><clipPath id="b13red"><path d="M513.20 153.19L519.04 177.59L524.88 190.77L530.72 190.77L536.56 194.18L542.40 207.85L548.24 217.61L559.92 197.60L571.60 201.50L589.12 215.66L606.64 236.15L630.00 246.40L630.00 251.28L606.64 247.86L589.12 240.06L571.60 235.66L559.92 226.88L548.24 242.01L542.40 227.37L536.56 218.58L530.72 215.17L524.88 220.05L519.04 206.87L513.20 162.95Z"/></clipPath><path d="M513.20 153.19L519.04 177.59L524.88 190.77L530.72 190.77L536.56 194.18L542.40 207.85L548.24 217.61L559.92 197.60L571.60 201.50L589.12 215.66L606.64 236.15L630.00 246.40L630.00 251.28L606.64 247.86L589.12 240.06L571.60 235.66L559.92 226.88L548.24 242.01L542.40 227.37L536.56 218.58L530.72 215.17L524.88 220.05L519.04 206.87L513.20 162.95Z" fill="#e80000" fill-opacity="0.2" stroke="#e80000" stroke-opacity="0.12" stroke-width="0.8"/><path d="M513.20 153.19L519.04 177.59L524.88 190.77L530.72 190.77L536.56 194.18L542.40 207.85L548.24 217.61L559.92 197.60L571.60 201.50L589.12 215.66L606.64 236.15L630.00 246.40L630.00 251.28L606.64 247.86L589.12 240.06L571.60 235.66L559.92 226.88L548.24 242.01L542.40 227.37L536.56 218.58L530.72 215.17L524.88 220.05L519.04 206.87L513.20 162.95Z" fill="none" stroke="#ffffff" stroke-opacity="0.55" stroke-width="1.8" stroke-dasharray="1.3 1.7" clip-path="url(#b13red)"/><clipPath id="b13yellow"><path d="M513.20 187.35L519.04 161.00L524.88 157.58L530.72 151.73L536.56 153.19L542.40 153.19L548.24 146.85L559.92 160.02L571.60 152.70L589.12 185.89L606.64 206.87L630.00 207.36L630.00 217.12L606.64 218.58L589.12 210.29L571.60 186.86L559.92 199.06L548.24 176.13L542.40 172.71L536.56 172.71L530.72 171.25L524.88 181.98L519.04 180.52L513.20 197.11Z"/></clipPath><path d="M513.20 187.35L519.04 161.00L524.88 157.58L530.72 151.73L536.56 153.19L542.40 153.19L548.24 146.85L559.92 160.02L571.60 152.70L589.12 185.89L606.64 206.87L630.00 207.36L630.00 217.12L606.64 218.58L589.12 210.29L571.60 186.86L559.92 199.06L548.24 176.13L542.40 172.71L536.56 172.71L530.72 171.25L524.88 181.98L519.04 180.52L513.20 197.11Z" fill="#ffb000" fill-opacity="0.16" stroke="#ffb000" stroke-opacity="0.12" stroke-width="0.8"/><path d="M513.20 187.35L519.04 161.00L524.88 157.58L530.72 151.73L536.56 153.19L542.40 153.19L548.24 146.85L559.92 160.02L571.60 152.70L589.12 185.89L606.64 206.87L630.00 207.36L630.00 217.12L606.64 218.58L589.12 210.29L571.60 186.86L559.92 199.06L548.24 176.13L542.40 172.71L536.56 172.71L530.72 171.25L524.88 181.98L519.04 180.52L513.20 197.11Z" fill="none" stroke="#ffffff" stroke-opacity="0.55" stroke-width="1.8" stroke-dasharray="1.3 1.7" clip-path="url(#b13yellow)"/><clipPath id="b13blue"><path d="M513.20 167.83L519.04 160.02L524.88 172.71L530.72 182.47L536.56 183.45L542.40 198.09L548.24 213.70L559.92 225.90L571.60 224.93L589.12 231.27L606.64 237.13L630.00 241.52L630.00 249.33L606.64 246.89L589.12 245.91L571.60 244.45L559.92 245.42L548.24 233.22L542.40 222.49L536.56 212.73L530.72 211.75L524.88 201.99L519.04 179.54L513.20 177.59Z"/></clipPath><path d="M513.20 167.83L519.04 160.02L524.88 172.71L530.72 182.47L536.56 183.45L542.40 198.09L548.24 213.70L559.92 225.90L571.60 224.93L589.12 231.27L606.64 237.13L630.00 241.52L630.00 249.33L606.64 246.89L589.12 245.91L571.60 244.45L559.92 245.42L548.24 233.22L542.40 222.49L536.56 212.73L530.72 211.75L524.88 201.99L519.04 179.54L513.20 177.59Z" fill="#2f6fc4" fill-opacity="0.18" stroke="#2f6fc4" stroke-opacity="0.12" stroke-width="0.8"/><path d="M513.20 167.83L519.04 160.02L524.88 172.71L530.72 182.47L536.56 183.45L542.40 198.09L548.24 213.70L559.92 225.90L571.60 224.93L589.12 231.27L606.64 237.13L630.00 241.52L630.00 249.33L606.64 246.89L589.12 245.91L571.60 244.45L559.92 245.42L548.24 233.22L542.40 222.49L536.56 212.73L530.72 211.75L524.88 201.99L519.04 179.54L513.20 177.59Z" fill="none" stroke="#ffffff" stroke-opacity="0.55" stroke-width="1.8" stroke-dasharray="1.3 1.7" clip-path="url(#b13blue)"/><path d="M513.20 172.71L519.04 169.78L524.88 187.35L530.72 197.11L536.56 198.09L542.40 210.29L548.24 223.46L559.92 235.66L571.60 234.69L589.12 238.59L606.64 242.01L630.00 245.42" stroke="#2f6fc4" stroke-width="2.1" fill="none" stroke-linejoin="round" stroke-linecap="round"/><path d="M513.20 192.23L519.04 170.76L524.88 169.78L530.72 161.49L536.56 162.95L542.40 162.95L548.24 161.49L559.92 179.54L571.60 169.78L589.12 198.09L606.64 212.73L630.00 212.24" stroke="#ffb000" stroke-width="2.1" fill="none" stroke-linejoin="round" stroke-linecap="round"/><path d="M513.20 158.07L519.04 192.23L524.88 205.41L530.72 202.97L536.56 206.38L542.40 217.61L548.24 229.81L559.92 212.24L571.60 218.58L589.12 227.86L606.64 242.01L630.00 248.84" stroke="#e80000" stroke-width="2.1" fill="none" stroke-linejoin="round" stroke-linecap="round"/><path d="M513.20 187.84L519.04 165.88L524.88 164.90L530.72 171.74L536.56 162.46L542.40 170.27L548.24 177.59L559.92 181.01L571.60 178.57L589.12 190.28L606.64 210.29L630.00 209.31" stroke="#5faa5f" stroke-width="2.1" fill="none" stroke-linejoin="round" stroke-linecap="round"/></g><text x="107.35" y="11.7" text-anchor="middle" class="tt">SWAT</text><text x="261.55" y="11.7" text-anchor="middle" class="tt">WADI</text><text x="416.55" y="11.7" text-anchor="middle" class="tt">PUMP</text><text x="571.75" y="11.7" text-anchor="middle" class="tt">PSM</text><text x="107.15" y="286.1" text-anchor="middle" class="lb">ratio</text><text x="262.15" y="286.1" text-anchor="middle" class="lb">ratio</text><text x="417.15" y="286.1" text-anchor="middle" class="lb">ratio</text><text x="572.35" y="286.1" text-anchor="middle" class="lb">ratio</text><text transform="translate(14.0 71.8) rotate(-90)" text-anchor="middle" class="yl">AUC</text><text transform="translate(14.0 200.1) rotate(-90)" text-anchor="middle" class="yl">F1-score</text><path d="M28.4 306.6H61.6" stroke="#2f6fc4" stroke-width="1.8"/><path d="M182.0 306.6H215.8" stroke="#ffb000" stroke-width="1.8"/><path d="M370.5 306.6H404.5" stroke="#e80000" stroke-width="1.8"/><path d="M553.1 306.6H586.8" stroke="#5faa5f" stroke-width="1.8"/><text x="73.4" y="311.3" class="lg">vanilla</text><text transform="translate(227.8 311.3) scale(1.12 1)" class="lg" font-style="italic">m</text><text transform="translate(243.3 317.0) scale(1.15 1)" class="lg" font-weight="bold" style="font-size:12.5px">x</text><text x="255.5" y="311.3" class="lg">filtering</text><text transform="translate(416.4 311.3) scale(1.12 1)" class="lg" font-style="italic">v</text><text transform="translate(425.5 317.0) scale(1.15 1)" class="lg" font-weight="bold" style="font-size:12.5px">x</text><text x="438.1" y="311.3" class="lg">filtering</text><text x="598.0" y="311.3" class="lg">ours</text></svg>
</body></html>
